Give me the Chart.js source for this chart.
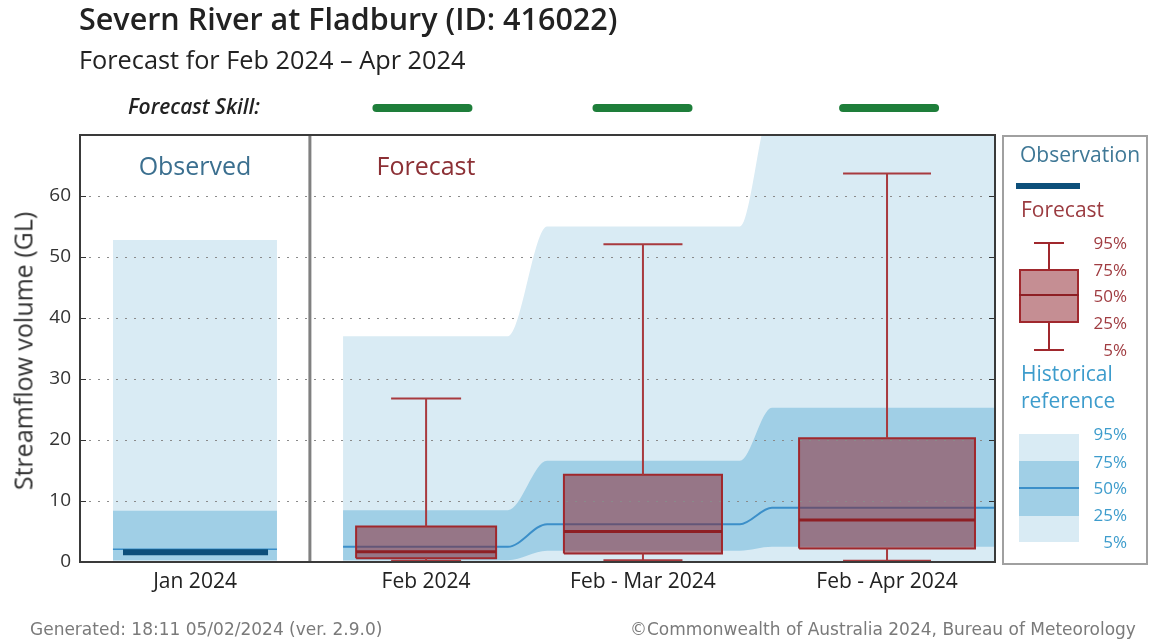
<!DOCTYPE html>
<html>
<head>
<meta charset="utf-8">
<script src="https://cdn.jsdelivr.net/npm/chart.js@4.4.1/dist/chart.umd.min.js"></script>
<style>
html,body{margin:0;padding:0;background:#fff;}
#wrap{position:relative;width:1149px;height:644px;overflow:hidden;font-family:'Open Sans',sans-serif;}
#c{position:absolute;left:0;top:0;}
.t{position:absolute;white-space:nowrap;line-height:1;}
.pf{font-size:17px;color:#a03c41;text-align:right;width:60px;}
.ph{font-size:17px;color:#3d9ccc;text-align:right;width:60px;}
.abs{position:absolute;}
</style>
</head>
<body>
<div id="wrap">
  <canvas id="c" width="1149" height="644"></canvas>

  <div class="t" style="left:79px;top:3px;font-size:30.5px;font-weight:600;color:#222;">Severn River at Fladbury (ID: 416022)</div>
  <div class="t" style="left:79px;top:47px;font-size:25.3px;color:#222;">Forecast for Feb 2024 – Apr 2024</div>
  <div class="t" style="left:128px;top:96px;font-size:21px;font-weight:600;font-style:italic;color:#222;">Forecast Skill:</div>

  <div class="t" style="left:23px;top:351px;font-size:25px;color:#333;transform:translate(-50%,-50%) rotate(-90deg);">Streamflow volume (GL)</div>

  <div class="t" style="left:195px;top:153px;font-size:25px;color:#3b6f8f;transform:translateX(-50%);">Observed</div>
  <div class="t" style="left:426px;top:153px;font-size:25px;color:#8c3035;transform:translateX(-50%);">Forecast</div>

  <!-- legend panel -->
  <div class="abs" style="left:1002px;top:135px;width:142px;height:426px;border:2px solid #a0a0a0;"></div>
  <div class="t" style="left:1020px;top:144px;font-size:21px;color:#3f7896;">Observation</div>
  <div class="abs" style="left:1016px;top:183px;width:64px;height:6px;background:#0d4f7a;"></div>
  <div class="t" style="left:1021px;top:199px;font-size:21px;color:#9b3b40;">Forecast</div>
  <div class="abs" style="left:1034px;top:242px;width:30px;height:2px;background:#a0282d;"></div>
  <div class="abs" style="left:1048px;top:242px;width:2px;height:28px;background:#a0282d;"></div>
  <div class="abs" style="left:1019px;top:269px;width:56px;height:50px;border:2px solid #a0282d;background:rgba(140,30,40,0.5);"></div>
  <div class="abs" style="left:1019px;top:294px;width:60px;height:2px;background:#8e1f24;"></div>
  <div class="abs" style="left:1048px;top:322px;width:2px;height:28px;background:#a0282d;"></div>
  <div class="abs" style="left:1034px;top:349px;width:30px;height:2px;background:#a0282d;"></div>
  <div class="t pf" style="left:1067px;top:234px;">95%</div>
  <div class="t pf" style="left:1067px;top:261px;">75%</div>
  <div class="t pf" style="left:1067px;top:287px;">50%</div>
  <div class="t pf" style="left:1067px;top:314px;">25%</div>
  <div class="t pf" style="left:1067px;top:341px;">5%</div>
  <div class="t" style="left:1021px;top:363px;font-size:21px;color:#3d9ccc;">Historical</div>
  <div class="t" style="left:1021px;top:390px;font-size:21px;color:#3d9ccc;">reference</div>
  <div class="abs" style="left:1019px;top:434px;width:60px;height:108px;background:#d9ebf4;"></div>
  <div class="abs" style="left:1019px;top:461px;width:60px;height:55px;background:#a0cfe6;"></div>
  <div class="abs" style="left:1019px;top:487px;width:60px;height:2px;background:#3b8fc9;"></div>
  <div class="t ph" style="left:1067px;top:425px;">95%</div>
  <div class="t ph" style="left:1067px;top:453px;">75%</div>
  <div class="t ph" style="left:1067px;top:479px;">50%</div>
  <div class="t ph" style="left:1067px;top:506px;">25%</div>
  <div class="t ph" style="left:1067px;top:533px;">5%</div>

  <div class="t" style="left:30px;top:621px;font-size:17px;color:#7a7a7a;font-family:'DejaVu Sans',sans-serif;">Generated: 18:11 05/02/2024 (ver. 2.9.0)</div>
  <div class="t" style="left:630px;top:621px;font-size:17px;color:#7a7a7a;font-family:'DejaVu Sans',sans-serif;">©Commonwealth of Australia 2024, Bureau of Meteorology</div>
</div>

<script>
/* ── categories / ticks ───────────────────────────────── */
var catLabels = ['Jan 2024', 'Feb 2024', 'Feb - Mar 2024', 'Feb - Apr 2024'];
var yTicks    = [0, 10, 20, 30, 40, 50, 60];

/* ── historical reference (Jan observed + 3 forecast periods), GL ── */
var histP95 = [52.8, 37.0, 55.0, 75.0];
var histP75 = [8.4, 8.5, 16.6, 25.3];
var histP50 = [2.1, 2.5, 6.2, 8.9];
var histP25 = [0.3, 0.3, 1.85, 2.5];
var histP5  = [0.0, 0.0, 0.0, 0.0];

/* ── observation (Jan) ── */
var observed = [1.6];

/* ── forecast quantiles (Feb, Feb-Mar, Feb-Apr) ── */
var fcP5  = [0.2, 0.3, 0.2];
var fcP25 = [0.6, 1.4, 2.2];
var fcP50 = [1.7, 5.0, 6.9];
var fcP75 = [5.8, 14.3, 20.3];
var fcP95 = [26.8, 52.1, 63.7];

var skill = ['high', 'high', 'high'];

/* ── layout (x axis units) ── */
var xMin = 0, xMax = 4, yMax = 70;
var catX      = [0.503, 1.513, 2.461, 3.528];
var skillX    = [1.497, 2.459, 3.537];
var dividerX  = 1.005;
var janSpan   = [0.144, 0.861];
var obsSpan   = [0.188, 0.822];
var histSteps = [[1.15, 1.871], [2.042, 2.885], [3.025, 4.0]];
var boxW      = [0.612, 0.691, 0.769];

var COL = {
    light:'#d9ebf4', mid:'#a0cfe6', hmed:'#3b8fc9', obs:'#0d4f7a',
    boxFill:'rgba(140,30,40,0.5)', boxLine:'#a0282d', med:'#8e1f24', whisk:'#a83a3e',
    skill:'#1e7e3a', grid:'#8a8a8a'
};

function janPts(arr){ return [{x:janSpan[0], y:arr[0]}, {x:janSpan[1], y:arr[0]}]; }
function fcPts(arr){
    var pts = [];
    histSteps.forEach(function(s, i){ pts.push({x:s[0], y:arr[i+1]}, {x:s[1], y:arr[i+1]}); });
    return pts;
}
function band(pts, opts){
    return Object.assign({type:'line', data:pts, pointRadius:0, borderWidth:0,
        borderColor:'rgba(0,0,0,0)', fill:false, cubicInterpolationMode:'monotone'}, opts);
}

var ds = [];
/* forecast-period historical bands */
ds.push(band(fcPts(histP95), {fill:{target:1}, backgroundColor:COL.light, order:20}));   // 0
ds.push(band(fcPts(histP5),  {order:20}));                                               // 1
ds.push(band(fcPts(histP75), {fill:{target:3}, backgroundColor:COL.mid, order:19}));     // 2
ds.push(band(fcPts(histP25), {order:19}));                                               // 3
ds.push(band(fcPts(histP50), {borderColor:COL.hmed, borderWidth:2, order:18}));          // 4
/* january historical bands */
ds.push(band(janPts(histP95), {fill:{target:6}, backgroundColor:COL.light, order:20}));  // 5
ds.push(band(janPts(histP5),  {order:20}));                                              // 6
ds.push(band(janPts(histP75), {fill:{target:8}, backgroundColor:COL.mid, order:19}));    // 7
ds.push(band(janPts(histP25), {order:19}));                                              // 8
ds.push(band(janPts(histP50), {borderColor:COL.hmed, borderWidth:1.5, order:18}));       // 9
/* observation */
ds.push(band([{x:obsSpan[0], y:observed[0]}, {x:obsSpan[1], y:observed[0]}],
    {borderColor:COL.obs, borderWidth:6, order:17}));

/* forecast boxes */
fcP50.forEach(function(m, i){
    var cx = catX[i+1], h = boxW[i]/2, q = boxW[i]/4;
    ds.push({type:'line', order:3, pointRadius:0, tension:0, fill:'shape',
        backgroundColor:COL.boxFill, borderColor:COL.boxLine, borderWidth:2,
        data:[{x:cx-h,y:fcP25[i]},{x:cx-h,y:fcP75[i]},{x:cx+h,y:fcP75[i]},{x:cx+h,y:fcP25[i]},{x:cx-h,y:fcP25[i]}]});
    ds.push({type:'line', order:2, pointRadius:0, tension:0, fill:false,
        borderColor:COL.whisk, borderWidth:2,
        data:[{x:cx-q,y:fcP95[i]},{x:cx+q,y:fcP95[i]},{x:cx,y:fcP95[i]},{x:cx,y:fcP75[i]}]});
    ds.push({type:'line', order:2, pointRadius:0, tension:0, fill:false,
        borderColor:COL.whisk, borderWidth:2,
        data:[{x:cx,y:fcP25[i]},{x:cx,y:fcP5[i]},{x:cx-q,y:fcP5[i]},{x:cx+q,y:fcP5[i]}]});
    ds.push({type:'line', order:1, pointRadius:0, tension:0, fill:false,
        borderColor:COL.med, borderWidth:3,
        data:[{x:cx-h,y:m},{x:cx+h,y:m}]});
});

var decor = {
    id:'decor',
    afterDraw:function(chart){
        var c = chart.ctx, a = chart.chartArea, xs = chart.scales.x, ys = chart.scales.y;
        c.save();
        var dx = xs.getPixelForValue(dividerX);
        c.strokeStyle = '#808080'; c.lineWidth = 3;
        c.beginPath(); c.moveTo(dx, a.top); c.lineTo(dx, a.bottom); c.stroke();
        c.strokeStyle = '#333'; c.lineWidth = 1;
        yTicks.forEach(function(v){
            if (!v) return;
            var y = Math.round(ys.getPixelForValue(v)) + 0.5;
            c.beginPath();
            c.moveTo(a.left, y); c.lineTo(a.left + 6, y);
            c.moveTo(a.right - 6, y); c.lineTo(a.right, y);
            c.stroke();
        });
        c.strokeStyle = '#3a3a3a'; c.lineWidth = 2;
        c.strokeRect(a.left, a.top, a.right - a.left, a.bottom - a.top);
        c.strokeStyle = COL.skill; c.lineWidth = 8; c.lineCap = 'round';
        skill.forEach(function(s, i){
            var cx = xs.getPixelForValue(skillX[i]);
            c.beginPath(); c.moveTo(cx - 46, 108); c.lineTo(cx + 46, 108); c.stroke();
        });
        c.restore();
    }
};

new Chart(document.getElementById('c'), {
    type:'line',
    data:{datasets:ds},
    plugins:[decor],
    options:{
        responsive:false, animation:false,
        layout:{autoPadding:false, padding:{left:30, top:135, right:154, bottom:42}},
        plugins:{legend:{display:false}, tooltip:{enabled:false}, filler:{propagate:false}},
        scales:{
            x:{type:'linear', min:xMin, max:xMax,
                grid:{display:false, drawTicks:false}, border:{display:false},
                afterBuildTicks:function(s){ s.ticks = catX.map(function(v){ return {value:v}; }); },
                afterFit:function(s){ s.height = 40; },
                ticks:{autoSkip:false, maxRotation:0, padding:7, color:'#222',
                    font:{family:"'Open Sans', sans-serif", size:21},
                    callback:function(v, i){ return catLabels[i]; }}
            },
            y:{type:'linear', min:0, max:yMax,
                afterFit:function(s){ s.width = 50; },
                grid:{drawTicks:false, lineWidth:1, z:1,
                    color:function(ctx){ var v = ctx.tick && ctx.tick.value; return (v === 0 || v === yMax) ? 'rgba(0,0,0,0)' : COL.grid; }},
                border:{display:false, dash:[2,7]},
                ticks:{stepSize:10, padding:9, color:'#333',
                    font:{family:"'Open Sans', sans-serif", size:19},
                    callback:function(v){ return yTicks.indexOf(v) >= 0 ? String(v) : ''; }}
            }
        }
    }
});
</script>
</body>
</html>
